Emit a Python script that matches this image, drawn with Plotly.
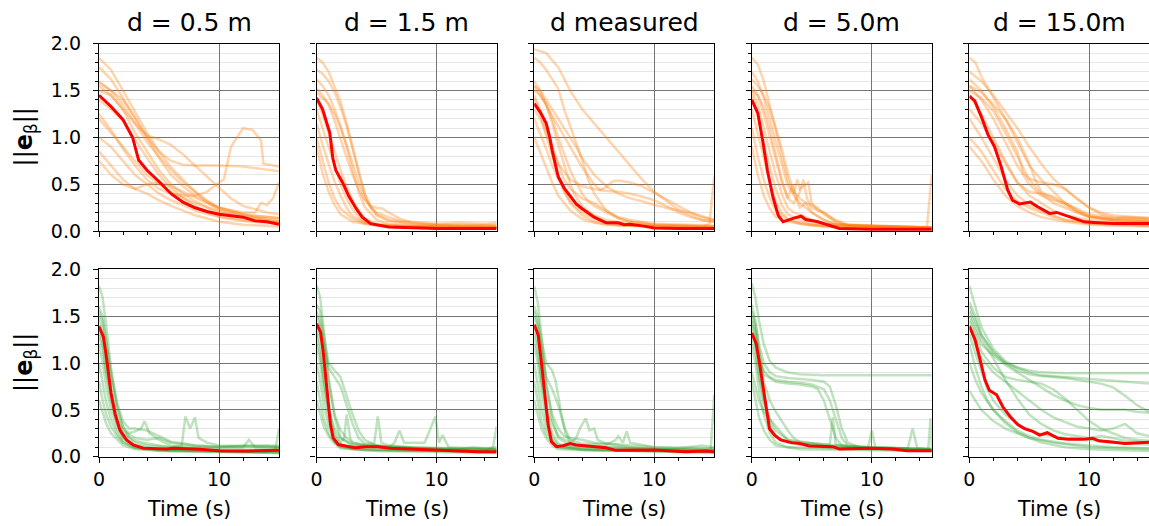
import plotly.graph_objects as go

W, H = 1149, 526

TITLES = ["d = 0.5 m", "d = 1.5 m", "d measured", "d = 5.0m", "d = 15.0m"]
X_TICKS = [0, 10]
Y_TICKS = [0.0, 0.5, 1.0, 1.5, 2.0]

# ---------------- Row 1 (orange) ----------------
MEAN_R1C1 = [[0,1.45],[1,1.33],[2,1.19],[2.5,1.08],[2.8,1.0],[3.3,0.76],[4,0.65],[5,0.53],[6,0.40],[7,0.31],[8,0.25],[9,0.21],[10,0.18],[11,0.165],[12,0.15],[13,0.11],[14,0.10],[15,0.075]]
RUNS_R1C1 = [
    [[0,1.85],[1,1.72],[2,1.5],[3,1.28],[4,1.05],[5,0.85],[6,0.68],[7,0.55],[8,0.42],[9,0.31],[10,0.23],[12,0.17],[15,0.14]],
    [[0,1.75],[1,1.62],[2,1.42],[3,1.2],[4,1.0],[5,0.85],[6,0.75],[7,0.71],[8,0.70],[10,0.70],[12,0.69],[14,0.66],[15,0.64]],
    [[0,1.25],[1,1.08],[2,0.88],[3,0.7],[4,0.55],[5,0.45],[6,0.4],[7,0.38],[8,0.38],[9,0.42],[10,0.52],[10.4,0.55],[11,0.9],[11.5,1.0],[12,1.1],[12.8,1.08],[13.5,0.97],[13.7,0.72],[15,0.69]],
    [[0,1.6],[1,1.5],[2,1.35],[3,1.15],[4,0.95],[5,0.8],[6,0.65],[7,0.52],[8,0.42],[9,0.33],[10,0.25],[12,0.18],[13,0.15],[15,0.12]],
    [[0,1.55],[1,1.45],[2,1.3],[3,1.05],[4,0.85],[5,0.65],[6,0.5],[7,0.4],[8,0.32],[9,0.26],[10,0.22],[12,0.16],[14,0.12],[15,0.1]],
    [[0,1.2],[1,1.05],[2,0.9],[3,0.75],[4,0.6],[5,0.5],[6,0.42],[7,0.35],[8,0.3],[9,0.25],[10,0.2],[12,0.15],[15,0.1]],
    [[0,1.0],[1,0.9],[2,0.75],[3,0.6],[4,0.5],[5,0.4],[6,0.33],[7,0.28],[8,0.22],[10,0.15],[12,0.11],[15,0.08]],
    [[0,0.85],[1,0.7],[2,0.55],[3,0.45],[4,0.4],[5,0.33],[6,0.27],[7,0.22],[8,0.17],[10,0.1],[12,0.07],[15,0.05]],
    [[0,0.75],[1,0.6],[2,0.5],[3,0.45],[4,0.5],[5,0.52],[6,0.48],[7,0.42],[8,0.36],[9,0.3],[10,0.25],[12,0.2],[13,0.2],[13.5,0.3],[14,0.28],[14.5,0.35],[15,0.52]],
    [[0,1.5],[1,1.45],[2,1.3],[3,1.15],[4,1.02],[5,0.98],[6,0.92],[7,0.82],[8,0.7],[9,0.58],[10,0.46],[11,0.35],[12,0.27],[14,0.2],[15,0.18]],
    [[0,1.4],[1,1.3],[2,1.18],[3,0.98],[4,0.78],[5,0.6],[6,0.46],[7,0.36],[8,0.27],[9,0.2],[10,0.16],[12,0.12],[15,0.09]],
    [[0,1.58],[1,1.5],[2,1.4],[3,1.22],[4,1.0],[5,0.78],[6,0.6],[7,0.48],[8,0.38],[10,0.25],[12,0.18],[15,0.14]],
]

MEAN_R1C2 = [[0,1.42],[0.5,1.3],[1.1,1.05],[1.35,0.78],[1.6,0.65],[2.2,0.51],[2.7,0.37],[3.3,0.24],[3.8,0.15],[4.5,0.08],[6,0.046],[8,0.035],[10,0.03],[15,0.03]]
RUNS_R1C2 = [
    [[0,1.85],[0.5,1.8],[1,1.7],[1.5,1.55],[2,1.38],[2.5,1.15],[3,0.9],[3.5,0.62],[4,0.4],[4.5,0.25],[5,0.17],[6,0.11],[8,0.07],[10,0.06],[15,0.05]],
    [[0,1.62],[0.5,1.55],[1,1.45],[1.5,1.3],[2,1.12],[2.5,0.9],[3,0.65],[3.5,0.42],[4,0.26],[5,0.12],[6,0.08],[8,0.05],[15,0.04]],
    [[0,1.52],[0.5,1.45],[1,1.35],[1.5,1.18],[2,0.98],[2.5,0.8],[3,0.6],[3.5,0.45],[4,0.33],[4.5,0.27],[5,0.25],[5.5,0.24],[6,0.2],[7,0.13],[8,0.09],[10,0.07],[12,0.06],[15,0.07]],
    [[0,1.4],[0.5,1.25],[1,1.05],[1.5,0.85],[2,0.65],[2.5,0.48],[3,0.33],[3.5,0.22],[4,0.14],[5,0.08],[7,0.05],[15,0.04]],
    [[0,1.3],[0.5,1.1],[1,0.88],[1.5,0.68],[2,0.5],[2.5,0.35],[3,0.23],[3.5,0.15],[4,0.1],[5,0.07],[8,0.05],[15,0.04]],
    [[0,1.15],[0.5,0.92],[1,0.72],[1.5,0.53],[2,0.38],[2.5,0.25],[3,0.16],[4,0.09],[6,0.05],[15,0.04]],
    [[0,1.0],[0.5,0.75],[1,0.52],[1.5,0.35],[2,0.24],[3,0.13],[4,0.08],[6,0.05],[15,0.04]],
    [[0,0.9],[0.5,0.62],[1,0.42],[1.5,0.28],[2,0.18],[3,0.1],[5,0.06],[15,0.05]],
    [[0,1.72],[0.5,1.68],[1,1.6],[1.5,1.48],[2,1.32],[2.5,1.12],[3,0.88],[3.5,0.62],[4,0.4],[4.5,0.26],[5,0.2],[6,0.15],[7,0.11],[8,0.1],[10,0.08],[12,0.09],[14,0.08],[15,0.09]],
    [[0,1.48],[0.5,1.42],[1,1.36],[1.5,1.25],[2,1.1],[2.5,0.92],[3,0.72],[3.5,0.52],[4,0.35],[5,0.18],[6,0.12],[7,0.1],[8,0.08],[10,0.07],[12,0.07],[15,0.06]],
]

MEAN_R1C3 = [[0,1.36],[0.5,1.27],[1,1.15],[1.3,1.0],[1.5,0.86],[2,0.58],[2.5,0.46],[3,0.37],[3.5,0.29],[4,0.24],[5,0.15],[6,0.09],[7,0.09],[7.5,0.07],[8,0.075],[9,0.057],[10,0.035],[12,0.03],[15,0.03]]
RUNS_R1C3 = [
    [[0,1.94],[1,1.9],[2,1.75],[3,1.5],[4,1.3],[5,1.15],[6,1.0],[7,0.85],[8,0.7],[9,0.55],[10,0.42],[11,0.32],[12,0.23],[13,0.17],[14,0.12],[15,0.1]],
    [[0,1.85],[0.5,1.8],[1,1.72],[2,1.52],[2.5,1.3],[3,1.12],[3.5,0.95],[4,0.76],[4.5,0.55],[5,0.4],[6,0.22],[7,0.14],[8,0.1],[10,0.07],[15,0.05]],
    [[0,1.55],[1,1.35],[2,1.12],[3,0.9],[4,0.68],[5,0.5],[5.5,0.44],[6,0.47],[6.5,0.53],[7,0.54],[8,0.52],[9,0.48],[10,0.41],[11,0.34],[12,0.27],[13,0.2],[14,0.15],[15,0.12]],
    [[0,1.45],[0.5,1.3],[1,1.1],[1.5,0.9],[2,0.72],[3,0.55],[4,0.48],[5,0.45],[6,0.43],[7,0.42],[8,0.4],[9,0.37],[10,0.33],[11,0.27],[12,0.2],[13,0.15],[14,0.12],[15,0.1]],
    [[0,1.6],[0.5,1.5],[1,1.35],[1.5,1.15],[2,0.92],[2.5,0.7],[3,0.5],[3.5,0.36],[4,0.27],[5,0.17],[6,0.12],[8,0.08],[10,0.06],[14,0.05],[14.6,0.08],[15,0.58]],
    [[0,1.42],[0.5,1.25],[1,1.02],[1.5,0.8],[2,0.6],[2.5,0.43],[3,0.3],[4,0.17],[5,0.1],[6,0.07],[10,0.05],[15,0.04]],
    [[0,1.2],[0.5,1.05],[1,0.88],[1.5,0.7],[2,0.55],[2.5,0.42],[3,0.32],[4,0.2],[5,0.13],[6,0.09],[8,0.06],[15,0.04]],
    [[0,1.0],[0.5,0.85],[1,0.68],[1.5,0.52],[2,0.38],[3,0.22],[4,0.13],[5,0.09],[7,0.06],[15,0.04]],
    [[0,1.3],[0.5,1.2],[1,1.05],[1.5,0.88],[2,0.7],[2.5,0.55],[3,0.45],[3.5,0.4],[4,0.35],[5,0.3],[6,0.22],[7,0.15],[8,0.12],[10,0.08],[15,0.06]],
    [[0,1.5],[0.5,1.45],[1,1.35],[1.5,1.2],[2,1.0],[2.5,0.82],[3,0.65],[3.5,0.52],[4,0.4],[4.5,0.32],[5,0.27],[6,0.2],[7,0.14],[8,0.1],[10,0.07],[15,0.05]],
    [[0,1.55],[0.5,1.5],[1,1.4],[2,1.2],[3,1.0],[3.5,0.9],[4,0.78],[5,0.6],[6,0.48],[7,0.4],[8,0.35],[9,0.32],[10,0.28],[11,0.25],[12,0.22],[13,0.2],[14,0.16],[15,0.12]],
]

MEAN_R1C4 = [[0,1.4],[0.5,1.26],[0.9,0.97],[1.3,0.65],[1.75,0.37],[2.2,0.17],[2.6,0.1],[3.0,0.12],[3.5,0.14],[4.1,0.16],[4.5,0.125],[5.5,0.1],[6.2,0.075],[7.3,0.03],[10,0.02],[15,0.02]]
RUNS_R1C4 = [
    [[0,1.85],[0.5,1.78],[1,1.6],[1.5,1.35],[2,1.08],[2.5,0.8],[3,0.55],[3.5,0.38],[4,0.3],[5,0.2],[6,0.12],[7,0.07],[8,0.05],[15,0.04]],
    [[0,1.7],[0.5,1.6],[1,1.42],[1.5,1.2],[2,0.95],[2.5,0.7],[3,0.48],[3.5,0.4],[3.8,0.55],[4,0.45],[4.5,0.5],[4.7,0.52],[5,0.3],[5.5,0.22],[6,0.2],[7,0.12],[8,0.07],[10,0.05],[15,0.04]],
    [[0,1.55],[0.5,1.45],[1,1.25],[1.5,1.0],[2,0.75],[2.5,0.52],[3,0.35],[3.5,0.3],[4,0.42],[4.3,0.55],[4.6,0.35],[5,0.25],[6,0.2],[7,0.1],[8,0.06],[15,0.04]],
    [[0,1.5],[0.5,1.35],[1,1.1],[1.5,0.85],[2,0.6],[2.5,0.4],[3,0.25],[3.5,0.2],[4,0.18],[5,0.12],[6,0.08],[15,0.04]],
    [[0,1.45],[0.5,1.25],[1,0.95],[1.5,0.68],[2,0.45],[2.5,0.28],[3,0.18],[4,0.12],[5,0.08],[15,0.03]],
    [[0,1.3],[0.5,1.05],[1,0.78],[1.5,0.52],[2,0.32],[2.5,0.2],[3,0.13],[4,0.09],[6,0.05],[15,0.03]],
    [[0,1.1],[0.5,0.8],[1,0.55],[1.5,0.35],[2,0.22],[3,0.12],[4,0.08],[6,0.05],[15,0.03]],
    [[0,0.9],[0.5,0.6],[1,0.38],[1.5,0.24],[2,0.15],[3,0.1],[5,0.06],[14,0.04],[14.6,0.05],[15,0.6]],
    [[0,1.62],[0.5,1.55],[1,1.45],[1.5,1.3],[2,1.1],[2.5,0.88],[3,0.62],[3.5,0.42],[4,0.35],[4.5,0.3],[5,0.28],[5.5,0.25],[6,0.18],[7,0.1],[8,0.06],[15,0.04]],
    [[0,1.5],[0.5,1.45],[1,1.32],[1.5,1.1],[2,0.82],[2.5,0.55],[3,0.35],[3.4,0.5],[3.7,0.35],[4,0.25],[4.5,0.3],[5,0.2],[6,0.12],[7,0.07],[15,0.04]],
]

MEAN_R1C5 = [[0,1.44],[0.45,1.39],[1,1.22],[1.55,1.03],[2.1,0.9],[2.65,0.69],[3.2,0.44],[3.6,0.33],[4.2,0.29],[5.1,0.31],[5.7,0.26],[6.7,0.19],[7.3,0.2],[8.45,0.15],[9.6,0.1],[10.4,0.093],[12,0.082],[15,0.082]]
RUNS_R1C5 = [
    [[0,1.85],[0.5,1.8],[1,1.65],[2,1.42],[3,1.2],[4,0.95],[5,0.7],[6,0.55],[7,0.42],[8,0.3],[9,0.22],[10,0.16],[12,0.12],[15,0.1]],
    [[0,1.62],[1,1.5],[2,1.32],[3,1.1],[4,0.85],[4.5,0.62],[5,0.56],[6,0.52],[7,0.5],[8,0.45],[9,0.35],[10,0.25],[11,0.2],[12,0.17],[13,0.16],[15,0.14]],
    [[0,1.55],[1,1.4],[2,1.2],[3,0.95],[4,0.7],[5,0.5],[6,0.38],[7,0.33],[8,0.3],[9,0.24],[10,0.18],[12,0.14],[15,0.12]],
    [[0,1.45],[1,1.25],[2,1.0],[3,0.75],[4,0.52],[5,0.38],[6,0.3],[7,0.22],[8,0.17],[10,0.12],[12,0.1],[15,0.09]],
    [[0,1.0],[1,0.85],[2,0.65],[3,0.45],[4,0.32],[5,0.25],[6,0.2],[7,0.15],[8,0.12],[10,0.09],[15,0.06]],
    [[0,1.2],[1,1.0],[2,0.78],[3,0.55],[4,0.38],[5,0.28],[6,0.22],[7,0.17],[8,0.12],[10,0.08],[15,0.06]],
    [[0,1.55],[1,1.48],[2,1.35],[3,1.2],[4,1.0],[5,0.72],[5.5,0.55],[6,0.42],[7,0.35],[8,0.28],[9,0.2],[10,0.15],[12,0.12],[15,0.11]],
    [[0,1.3],[1,1.15],[2,0.95],[3,0.72],[4,0.52],[5,0.42],[6,0.4],[7,0.37],[8,0.3],[9,0.22],[10,0.16],[12,0.13],[13,0.15],[15,0.14]],
    [[0,0.9],[1,0.75],[2,0.55],[3,0.38],[4,0.27],[5,0.2],[6,0.15],[8,0.1],[10,0.07],[15,0.05]],
    [[0,1.5],[1,1.42],[2,1.28],[3,1.05],[4,0.8],[5,0.55],[6,0.4],[7,0.3],[8,0.25],[10,0.15],[12,0.12],[15,0.1]],
    [[0,1.7],[1,1.6],[2,1.45],[3,1.28],[4,1.1],[5,0.9],[6,0.72],[7,0.56],[8,0.45],[9,0.34],[10,0.25],[11,0.18],[12,0.15],[15,0.13]],
]

# ---------------- Row 2 (green) ----------------
MEAN_R2C1 = [[0,1.39],[0.36,1.28],[0.58,1.1],[0.78,0.89],[1.0,0.68],[1.33,0.46],[1.75,0.28],[2.3,0.18],[2.85,0.125],[3.7,0.09],[5.6,0.082],[6.2,0.09],[8.4,0.08],[10,0.064],[12.3,0.06],[15,0.07]]
RUNS_R2C1 = [
    [[0,1.82],[0.3,1.7],[0.6,1.4],[1,0.95],[1.5,0.55],[2,0.32],[2.5,0.2],[3,0.15],[4,0.12],[6,0.1],[10,0.08],[15,0.07]],
    [[0,1.6],[0.3,1.5],[0.6,1.25],[1,0.85],[1.5,0.5],[2,0.32],[2.5,0.25],[3,0.27],[3.5,0.3],[3.8,0.38],[4.2,0.25],[5,0.18],[6,0.12],[8,0.1],[10,0.1],[12,0.1],[12.5,0.18],[13,0.1],[15,0.09]],
    [[0,1.5],[0.3,1.35],[0.6,1.05],[1,0.7],[1.5,0.4],[2,0.25],[3,0.17],[4,0.14],[5,0.12],[6,0.1],[6.9,0.12],[7.2,0.43],[7.6,0.3],[8,0.42],[8.3,0.2],[9,0.15],[10,0.12],[15,0.1]],
    [[0,1.4],[0.3,1.2],[0.6,0.9],[1,0.6],[1.5,0.35],[2,0.2],[3,0.12],[5,0.08],[10,0.06],[15,0.05]],
    [[0,1.2],[0.3,1.0],[0.6,0.75],[1,0.5],[1.5,0.3],[2,0.18],[3,0.1],[5,0.07],[15,0.05]],
    [[0,1.0],[0.3,0.8],[0.6,0.58],[1,0.4],[1.5,0.25],[2,0.15],[3,0.09],[5,0.06],[15,0.04]],
    [[0,0.8],[0.3,0.6],[0.6,0.45],[1,0.32],[1.5,0.22],[2,0.15],[3,0.1],[6,0.07],[14,0.05],[14.7,0.08],[15,0.3]],
    [[0,1.55],[0.3,1.45],[0.6,1.22],[1,0.9],[1.5,0.58],[2,0.38],[2.5,0.3],[3,0.3],[4,0.28],[5,0.22],[6,0.16],[7,0.14],[8,0.12],[10,0.1],[12,0.12],[14,0.12],[15,0.1]],
    [[0,0.6],[0.3,0.48],[0.6,0.35],[1,0.25],[1.5,0.18],[2,0.12],[3,0.08],[6,0.06],[15,0.04]],
    [[0,1.3],[0.3,1.15],[0.6,0.9],[1,0.65],[1.5,0.42],[2,0.28],[3,0.2],[4,0.18],[5,0.2],[6,0.15],[8,0.12],[10,0.11],[13,0.11],[15,0.12]],
]

MEAN_R2C2 = [[0,1.42],[0.33,1.33],[0.55,1.12],[0.77,0.84],[0.97,0.55],[1.16,0.34],[1.38,0.2],[1.8,0.13],[2.2,0.12],[3.2,0.096],[4.1,0.107],[5.1,0.107],[6.1,0.09],[8,0.078],[10,0.071],[11.9,0.06],[13.5,0.053],[15,0.053]]
RUNS_R2C2 = [
    [[0,1.83],[0.3,1.7],[0.6,1.35],[1,0.85],[1.5,0.42],[2,0.2],[3,0.12],[5,0.1],[10,0.08],[15,0.07]],
    [[0,1.62],[0.3,1.55],[0.6,1.3],[1,1.0],[1.5,0.92],[2,0.85],[2.5,0.65],[3,0.45],[3.5,0.28],[4,0.18],[5,0.12],[6,0.1],[8,0.09],[15,0.07]],
    [[0,1.5],[0.3,1.4],[0.6,1.2],[1,0.95],[1.5,0.85],[2,0.75],[2.5,0.55],[3,0.35],[3.5,0.2],[4,0.14],[4.8,0.14],[5.1,0.43],[5.4,0.15],[6,0.12],[8,0.1],[15,0.08]],
    [[0,1.4],[0.3,1.2],[0.6,0.85],[1,0.5],[1.5,0.25],[2,0.15],[2.3,0.2],[2.5,0.45],[2.8,0.2],[3,0.15],[4,0.12],[6,0.1],[6.5,0.15],[6.9,0.28],[7.3,0.15],[9,0.15],[9.9,0.43],[10.2,0.15],[10.5,0.23],[11,0.1],[15,0.08]],
    [[0,1.2],[0.3,1.0],[0.6,0.7],[1,0.42],[1.5,0.22],[2,0.13],[3,0.09],[6,0.07],[15,0.05]],
    [[0,1.0],[0.3,0.8],[0.6,0.55],[1,0.33],[1.5,0.18],[2,0.11],[3,0.08],[15,0.05]],
    [[0,0.8],[0.3,0.6],[0.6,0.4],[1,0.25],[1.5,0.15],[2,0.1],[4,0.07],[14,0.06],[14.7,0.1],[15,0.32]],
    [[0,1.55],[0.3,1.45],[0.6,1.2],[1,0.8],[1.5,0.45],[2,0.28],[2.5,0.2],[3,0.15],[4,0.13],[5,0.12],[7,0.1],[10,0.08],[15,0.08]],
    [[0,1.3],[0.3,1.1],[0.6,0.8],[1,0.5],[1.5,0.3],[2,0.2],[3,0.13],[4,0.12],[6,0.11],[8,0.1],[10,0.09],[12,0.08],[13,0.1],[14,0.09],[15,0.1]],
    [[0,0.6],[0.3,0.45],[0.6,0.32],[1,0.22],[1.5,0.14],[2,0.09],[5,0.06],[15,0.04]],
]

MEAN_R2C3 = [[0,1.41],[0.33,1.3],[0.6,1.01],[0.9,0.66],[1.16,0.34],[1.44,0.16],[1.85,0.107],[2.4,0.117],[3,0.14],[3.5,0.125],[6,0.096],[6.8,0.068],[10,0.071],[12.6,0.053],[14.3,0.06],[15,0.053]]
RUNS_R2C3 = [
    [[0,1.82],[0.3,1.65],[0.6,1.3],[1,0.8],[1.5,0.4],[2,0.2],[3,0.12],[5,0.1],[10,0.08],[15,0.07]],
    [[0,1.6],[0.3,1.5],[0.6,1.25],[1,1.0],[1.5,0.92],[1.8,0.8],[2.2,0.5],[2.6,0.25],[3,0.15],[3.5,0.2],[3.8,0.3],[4.3,0.41],[4.6,0.28],[5,0.3],[5.3,0.18],[6,0.14],[8,0.1],[10,0.08],[15,0.08]],
    [[0,1.5],[0.3,1.38],[0.6,1.15],[1,0.85],[1.5,0.72],[2,0.55],[2.5,0.32],[3,0.18],[4,0.14],[6,0.13],[6.8,0.18],[7,0.22],[7.4,0.15],[7.7,0.27],[8,0.15],[10,0.1],[15,0.09]],
    [[0,1.4],[0.3,1.2],[0.6,0.85],[1,0.5],[1.5,0.25],[2,0.14],[3,0.1],[6,0.08],[15,0.06]],
    [[0,1.2],[0.3,1.0],[0.6,0.7],[1,0.4],[1.5,0.2],[2,0.12],[4,0.08],[15,0.05]],
    [[0,1.0],[0.3,0.78],[0.6,0.52],[1,0.3],[1.5,0.17],[2,0.1],[4,0.07],[14.7,0.06],[15,0.66]],
    [[0,0.8],[0.3,0.58],[0.6,0.38],[1,0.24],[1.5,0.15],[2,0.1],[5,0.07],[15,0.05]],
    [[0,1.55],[0.3,1.42],[0.6,1.15],[1,0.75],[1.5,0.45],[2,0.3],[2.5,0.22],[3,0.2],[4,0.18],[5,0.15],[6,0.14],[8,0.12],[10,0.1],[12,0.09],[14,0.12],[15,0.1]],
    [[0,1.3],[0.3,1.1],[0.6,0.82],[1,0.55],[1.5,0.35],[2,0.22],[3,0.15],[4,0.12],[7,0.1],[10,0.08],[15,0.07]],
    [[0,0.6],[0.3,0.45],[0.6,0.3],[1,0.2],[1.5,0.12],[2,0.08],[15,0.04]],
]

MEAN_R2C4 = [[0,1.32],[0.36,1.21],[0.64,1.0],[0.92,0.75],[1.2,0.5],[1.47,0.3],[1.9,0.23],[2.4,0.18],[3.3,0.15],[4,0.14],[4.8,0.114],[6.75,0.107],[7.3,0.082],[10,0.089],[11.75,0.082],[12.9,0.064],[15,0.064]]
RUNS_R2C4 = [
    [[0,1.85],[0.3,1.7],[0.6,1.45],[1,1.2],[1.5,1.02],[2,0.95],[3,0.9],[4,0.88],[6,0.87],[8,0.87],[10,0.87],[12,0.87],[15,0.87]],
    [[0,1.62],[0.3,1.45],[0.6,1.2],[1,1.0],[1.5,0.9],[2,0.86],[3,0.84],[4,0.83],[5,0.82],[6,0.8],[6.5,0.75],[7,0.55],[7.5,0.3],[8,0.15],[9,0.1],[10,0.09],[15,0.08]],
    [[0,1.5],[0.3,1.35],[0.6,1.1],[1,0.92],[1.5,0.85],[2,0.82],[3,0.8],[4,0.79],[5,0.77],[6,0.72],[6.5,0.6],[7,0.4],[7.5,0.2],[8,0.12],[10,0.1],[15,0.08]],
    [[0,1.45],[0.3,1.3],[0.6,1.05],[1,0.88],[2,0.8],[3,0.78],[4,0.77],[5,0.75],[5.5,0.72],[6,0.6],[6.5,0.4],[7,0.2],[7.5,0.12],[8,0.1],[15,0.08]],
    [[0,1.4],[0.3,1.2],[0.6,0.9],[1,0.6],[1.5,0.35],[2,0.22],[3,0.15],[4,0.13],[5,0.14],[6,0.12],[8,0.1],[15,0.07]],
    [[0,1.2],[0.3,1.0],[0.6,0.72],[1,0.45],[1.5,0.25],[2,0.15],[3,0.1],[15,0.06]],
    [[0,0.9],[0.3,0.75],[0.6,0.6],[1,0.48],[1.5,0.4],[2,0.32],[2.5,0.25],[3,0.18],[4,0.14],[6,0.1],[15,0.07]],
    [[0,0.8],[0.3,0.6],[0.6,0.42],[1,0.28],[1.5,0.18],[2,0.12],[4,0.08],[15,0.06]],
    [[0,1.55],[0.3,1.42],[0.6,1.15],[1,0.8],[1.5,0.6],[2,0.48],[2.5,0.38],[3,0.28],[3.5,0.2],[4,0.16],[6,0.13],[8,0.11],[9.7,0.1],[10,0.28],[10.3,0.1],[13,0.09],[13.4,0.3],[13.8,0.09],[14.7,0.08],[14.9,0.41],[15,0.1]],
    [[0,1.3],[0.3,1.12],[0.6,0.85],[1,0.6],[1.5,0.4],[2,0.28],[3,0.18],[5,0.14],[6.5,0.13],[6.75,0.42],[7.0,0.13],[9,0.1],[15,0.08]],
]

MEAN_R2C5 = [[0,1.39],[0.47,1.25],[0.9,1.03],[1.3,0.82],[1.66,0.71],[2.27,0.66],[2.8,0.53],[3.4,0.43],[4.06,0.34],[4.6,0.30],[5.3,0.27],[5.86,0.23],[6.5,0.256],[7.4,0.196],[8.3,0.185],[9.45,0.185],[10.3,0.196],[10.8,0.17],[11.9,0.157],[13,0.142],[15,0.153]]
RUNS_R2C5 = [
    [[0,1.82],[0.5,1.6],[1,1.38],[2,1.15],[3,1.02],[4,0.95],[5,0.92],[6,0.9],[8,0.89],[10,0.89],[12,0.89],[15,0.89]],
    [[0,1.6],[0.5,1.45],[1,1.3],[2,1.1],[3,1.0],[4,0.95],[5,0.9],[6,0.87],[8,0.85],[10,0.83],[12,0.81],[14,0.79],[15,0.78]],
    [[0,1.5],[0.5,1.35],[1,1.2],[2,1.08],[3,0.98],[4,0.9],[5,0.82],[6,0.74],[7,0.66],[8,0.6],[9,0.55],[10,0.52],[11,0.5],[12,0.5],[13,0.5],[14,0.48],[15,0.47]],
    [[0,1.4],[0.5,1.2],[1,1.05],[2,0.9],[3,0.8],[4,0.7],[5,0.6],[6,0.5],[7,0.42],[8,0.37],[9,0.32],[10,0.3],[11,0.28],[12,0.3],[13,0.35],[13.5,0.3],[14,0.25],[15,0.22]],
    [[0,1.3],[0.5,1.1],[1,0.9],[1.5,0.72],[2,0.6],[3,0.45],[4,0.35],[5,0.28],[6,0.24],[8,0.2],[10,0.18],[12,0.15],[15,0.13]],
    [[0,1.2],[0.5,0.95],[1,0.75],[1.5,0.6],[2,0.5],[3,0.38],[4,0.28],[5,0.22],[6,0.18],[8,0.14],[10,0.12],[12,0.1],[15,0.09]],
    [[0,1.0],[0.5,0.82],[1,0.68],[2,0.5],[3,0.36],[4,0.26],[5,0.2],[6,0.15],[8,0.1],[10,0.08],[15,0.06]],
    [[0,0.7],[0.5,0.6],[1,0.5],[2,0.38],[3,0.3],[4,0.25],[5,0.2],[7,0.15],[10,0.1],[15,0.08]],
    [[0,1.55],[0.5,1.4],[1,1.25],[2,1.05],[3,0.82],[4,0.62],[5,0.45],[6,0.35],[7,0.28],[8,0.24],[9,0.22],[10,0.2],[11,0.22],[12,0.2],[13,0.17],[15,0.15]],
    [[0,1.45],[0.5,1.3],[1,1.12],[2,0.95],[3,0.85],[4,0.82],[5,0.8],[6,0.78],[7,0.72],[8,0.62],[9,0.5],[10,0.38],[11,0.3],[12,0.25],[13,0.2],[14,0.18],[15,0.17]],
    [[0,1.65],[0.5,1.5],[1,1.3],[2,1.12],[3,1.0],[4,0.92],[5,0.88],[6,0.86],[7,0.85],[8,0.84],[9,0.82],[10,0.8],[11,0.78],[12,0.74],[13,0.65],[14,0.55],[15,0.48]],
]

PANELS = [
    [(MEAN_R1C1, RUNS_R1C1), (MEAN_R1C2, RUNS_R1C2), (MEAN_R1C3, RUNS_R1C3), (MEAN_R1C4, RUNS_R1C4), (MEAN_R1C5, RUNS_R1C5)],
    [(MEAN_R2C1, RUNS_R2C1), (MEAN_R2C2, RUNS_R2C2), (MEAN_R2C3, RUNS_R2C3), (MEAN_R2C4, RUNS_R2C4), (MEAN_R2C5, RUNS_R2C5)],
]
RUN_COLORS = ["rgba(255,127,14,0.33)", "rgba(44,160,44,0.30)"]
MEAN_COLOR = "#ff0000"

FONT = "DejaVu Sans"
TICK_SIZE = 19
TITLE_SIZE = 25
XLABEL_SIZE = 20.5
YLABEL_SIZE = 24
# layout geometry (pixels)
COL_LEFT = [99, 316.6, 534.2, 751.8, 969.4]
COL_W = 180
ROW_TOP = [43.7, 269.3]
ROW_BOT = [231.2, 456.7]

fig = go.Figure()
layout = dict(
    width=W, height=H, margin=dict(l=0, r=0, t=0, b=0, pad=0, autoexpand=False),
    paper_bgcolor="white", plot_bgcolor="white", showlegend=False,
    font=dict(family=FONT, size=TICK_SIZE, color="black"),
)
annotations = []
for r in range(2):
    for c in range(5):
        i = r * 5 + c + 1
        xs = "" if i == 1 else str(i)
        x0 = COL_LEFT[c] / W
        x1 = min(1.0, (COL_LEFT[c] + COL_W) / W)
        y0 = 1 - ROW_BOT[r] / H
        y1 = 1 - ROW_TOP[r] / H
        mean, runs = PANELS[r][c]
        for run in runs:
            fig.add_trace(go.Scatter(
                x=[p[0] for p in run], y=[p[1] for p in run], mode="lines",
                line=dict(color=RUN_COLORS[r], width=2.5), xaxis="x" + xs, yaxis="y" + xs,
                hoverinfo="skip"))
        fig.add_trace(go.Scatter(
            x=[p[0] for p in mean], y=[p[1] for p in mean], mode="lines",
            line=dict(color=MEAN_COLOR, width=3), xaxis="x" + xs, yaxis="y" + xs))
        layout["xaxis" + xs] = dict(
            domain=[x0, x1], range=[0, 15], anchor="y" + xs, automargin=False,
            tickmode="array", tickvals=X_TICKS, ticktext=[str(v) for v in X_TICKS],
            ticks="outside", ticklen=5, tickwidth=1.2, tickcolor="black",
            showticklabels=(r == 1), tickfont=dict(size=TICK_SIZE, family=FONT),
            showgrid=True, gridcolor="#757575", gridwidth=1,
            minor=dict(tickvals=[2, 4, 6, 8, 12, 14], ticks="outside", ticklen=3,
                       tickwidth=1, tickcolor="black", showgrid=False),
            showline=True, linecolor="black", linewidth=1.3, mirror=True,
            zeroline=False, fixedrange=True,
        )
        layout["yaxis" + xs] = dict(
            domain=[y0, y1], range=[0, 2], anchor="x" + xs, automargin=False,
            tickmode="array", tickvals=Y_TICKS, ticktext=["%.1f" % v for v in Y_TICKS],
            ticks="outside", ticklen=5, tickwidth=1.2, tickcolor="black",
            showticklabels=(c == 0), tickfont=dict(size=TICK_SIZE, family=FONT),
            ticklabelstandoff=8,
            showgrid=True, gridcolor="#757575", gridwidth=1,
            minor=dict(dtick=0.1, tick0=0, ticks="outside", ticklen=3, tickwidth=1,
                       tickcolor="black", showgrid=True, gridcolor="#e6e6e6", gridwidth=1),
            showline=True, linecolor="black", linewidth=1.3, mirror=(c < 4),
            zeroline=False, fixedrange=True,
        )
        if r == 0:
            annotations.append(dict(
                text=TITLES[c], x=(COL_LEFT[c] + COL_W / 2) / W, y=1 - 23 / H,
                xref="paper", yref="paper", xanchor="center", yanchor="middle",
                showarrow=False, font=dict(size=TITLE_SIZE, family=FONT)))
        else:
            annotations.append(dict(
                text="Time (s)", x=(COL_LEFT[c] + COL_W / 2) / W, y=1 - 509 / H,
                xref="paper", yref="paper", xanchor="center", yanchor="middle",
                showarrow=False, font=dict(size=XLABEL_SIZE, family=FONT)))
    annotations.append(dict(
        text="||<b>e</b><sub>β</sub>||", textangle=-90,
        x=25 / W, y=1 - (ROW_TOP[r] + ROW_BOT[r]) / 2 / H,
        xref="paper", yref="paper", xanchor="center", yanchor="middle",
        showarrow=False, font=dict(size=YLABEL_SIZE, family=FONT)))

layout["annotations"] = annotations
fig.update_layout(**layout)
fig.write_html("out.html", config={"displayModeBar": False},
               post_script="document.body.style.margin='0px';")
